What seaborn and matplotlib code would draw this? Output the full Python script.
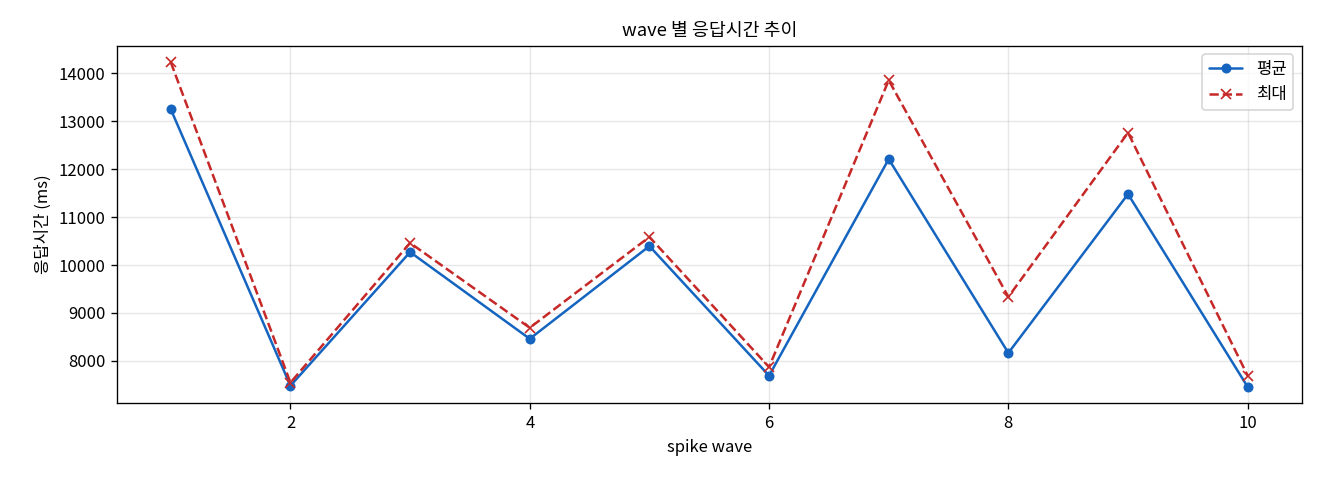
import matplotlib
matplotlib.use("Agg")
import matplotlib.pyplot as plt
import seaborn as sns
import pandas as pd

waves = [1, 2, 3, 4, 5, 6, 7, 8, 9, 10]
avg_ms = [13250, 7480, 10270, 8460, 10395, 7690, 12210, 8165, 11480, 7455]
max_ms = [14230, 7545, 10460, 8690, 10585, 7870, 13855, 9335, 12760, 7690]

sns.set_style("ticks")
plt.rcParams['font.family'] = ['Noto Sans CJK KR', 'DejaVu Sans']
plt.rcParams['axes.unicode_minus'] = False
plt.rcParams.update({
    "text.color": "black", "axes.labelcolor": "black",
    "xtick.color": "black", "ytick.color": "black",
    "axes.edgecolor": "black",
})

df = pd.DataFrame({"wave": waves, "평균": avg_ms, "최대": max_ms})

fig, ax = plt.subplots(figsize=(11, 4), dpi=120)
sns.lineplot(data=df, x="wave", y="평균", ax=ax, color="#1565c0",
             marker="o", markersize=6, markeredgewidth=0,
             markeredgecolor="#1565c0", lw=1.5, label="평균")
sns.lineplot(data=df, x="wave", y="최대", ax=ax, color="#c62828",
             marker="x", markersize=6, markeredgewidth=1.0,
             markeredgecolor="#c62828", lw=1.5,
             linestyle="--", label="최대")

ax.grid(True, color="#b0b0b0", alpha=0.3, lw=0.8)
ax.set_title("wave 별 응답시간 추이", fontsize=11)
ax.set_xlabel("spike wave", fontsize=10)
ax.set_ylabel("응답시간 (ms)", fontsize=10)
ax.tick_params(labelsize=10)
ax.set_xticks([2, 4, 6, 8, 10])
ax.legend(loc="upper right", fontsize=10)

fig.subplots_adjust(left=0.0886, right=0.986, top=0.904, bottom=0.160)
fig.savefig("out.png", dpi=120)
